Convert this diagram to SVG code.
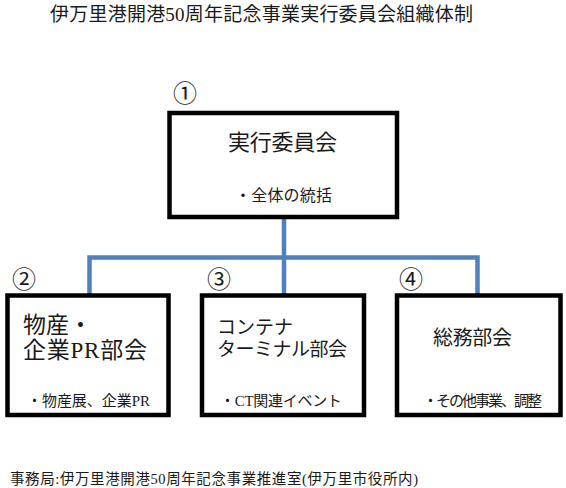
<svg xmlns="http://www.w3.org/2000/svg" width="566" height="488" viewBox="0 0 566 488">
<style>
text{font-family:"Liberation Serif","Noto Sans CJK JP",serif;fill:#1a1a1a}
.box{fill:#fff;stroke:#000;stroke-width:4.5}
.conn{fill:none;stroke:#4F81BD;stroke-width:4.5}
.num{font-size:24px;text-anchor:middle}
.sub{font-size:15px}
</style>
<rect width="566" height="488" fill="#fff"/>
<text x="261.5" y="21" font-size="19" text-anchor="middle" textLength="423" lengthAdjust="spacing">伊万里港開港50周年記念事業実行委員会組織体制</text>
<g id="connectors">
<path class="conn" d="M284 217V257.5M89.5 296V257.5H477.5V296M284 257.5V296"/>
</g>
<g id="n1">
<text class="num" x="185" y="102">①</text>
<rect class="box" x="169.5" y="113" width="227.5" height="104"/>
<text x="282.5" y="149.5" font-size="22" text-anchor="middle" textLength="109" lengthAdjust="spacing">実行委員会</text>
<text x="283.5" y="200.5" font-size="16" text-anchor="middle" textLength="97" lengthAdjust="spacing">・全体の統括</text>
</g>
<g id="n2">
<text class="num" x="24" y="288">②</text>
<rect class="box" x="7.5" y="295.5" width="161" height="119.5"/>
<text x="23" y="333" font-size="23">物産・</text>
<text x="23" y="357.5" font-size="23" textLength="124" lengthAdjust="spacing">企業PR部会</text>
<text class="sub" x="27" y="406" textLength="123" lengthAdjust="spacing">・物産展、企業PR</text>
</g>
<g id="n3">
<text class="num" x="219" y="288">③</text>
<rect class="box" x="202" y="295.5" width="162" height="119.5"/>
<text x="217" y="334" font-size="19">コンテナ</text>
<text x="217" y="355.5" font-size="19" textLength="130" lengthAdjust="spacing">ターミナル部会</text>
<text class="sub" x="220" y="406" textLength="122" lengthAdjust="spacing">・CT関連イベント</text>
</g>
<g id="n4">
<text class="num" x="411" y="288">④</text>
<rect class="box" x="397" y="295.5" width="163.5" height="119.5"/>
<text x="472.5" y="345" font-size="20" text-anchor="middle" textLength="79" lengthAdjust="spacing">総務部会</text>
<text class="sub" x="423" y="406" textLength="119" lengthAdjust="spacing">・その他事業、調整</text>
</g>
<text x="10" y="483.5" font-size="14.5" textLength="408" lengthAdjust="spacing">事務局:伊万里港開港50周年記念事業推進室(伊万里市役所内)</text>
</svg>
